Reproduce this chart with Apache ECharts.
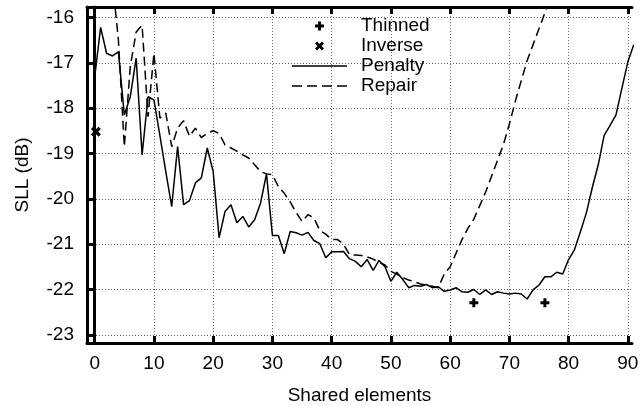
<!DOCTYPE html>
<html>
<head>
<meta charset="utf-8">
<script src="https://cdn.jsdelivr.net/npm/echarts@6/dist/echarts.min.js"></script>
<style>
  html, body { margin: 0; padding: 0; background: #fff; }
  #main { width: 641px; height: 406px; }
</style>
</head>
<body>
<div id="main"></div>
<script>
// 数据
var xTicks = [0, 10, 20, 30, 40, 50, 60, 70, 80, 90];
var yTicks = [-23, -22, -21, -20, -19, -18, -17, -16];

// Penalty: x = 0 .. 91
var penaltyStart = 0;
var penalty = [
  -17.31, -16.22, -16.79, -16.85, -16.76, -18.15, -17.75, -16.90, -19.03, -17.75,
  -17.82, -18.60, -19.40, -20.17, -18.85, -20.13, -20.04, -19.65, -19.54, -18.88,
  -19.40, -20.86, -20.28, -20.13, -20.53, -20.39, -20.62, -20.46, -20.09, -19.45,
  -20.81, -20.81, -21.21, -20.72, -20.75, -20.80, -20.74, -20.92, -20.99, -21.30,
  -21.17, -21.17, -21.16, -21.32, -21.38, -21.50, -21.34, -21.58, -21.36, -21.50,
  -21.82, -21.62, -21.78, -21.96, -21.91, -21.93, -21.89, -21.96, -21.94, -22.04,
  -22.01, -21.96, -22.05, -22.06, -22.00, -22.11, -22.01, -22.11, -22.05, -22.08,
  -22.10, -22.08, -22.10, -22.21, -22.01, -21.90, -21.72, -21.72, -21.62, -21.66,
  -21.34, -21.12, -20.72, -20.31, -19.75, -19.25, -18.60, -18.38, -18.15, -17.56,
  -16.98, -16.60
];

// Repair: x = 3 .. 77
var repairStart = 3;
var repair = [
  -15.20, -16.50, -18.85, -17.09, -16.32, -16.17, -18.19, -16.79, -18.22, -18.11,
  -18.85, -18.44, -18.28, -18.62, -18.44, -18.65, -18.55, -18.50, -18.56, -18.81,
  -18.88, -18.95, -19.03, -19.10, -19.25, -19.40, -19.45, -19.47, -19.73, -19.88,
  -20.07, -20.30, -20.50, -20.35, -20.42, -20.70, -20.78, -20.90, -20.90, -21.00,
  -21.23, -21.24, -21.25, -21.28, -21.33, -21.40, -21.46, -21.60, -21.66, -21.74,
  -21.79, -21.83, -21.88, -21.91, -21.93, -21.96, -21.66, -21.50, -21.20, -20.90,
  -20.65, -20.45, -20.15, -19.85, -19.50, -19.15, -18.80, -18.35, -17.85, -17.40,
  -16.95, -16.60, -16.25, -15.90, -15.50
];

var thinned = [[64, -22.29], [76, -22.29]];
var inverse = [[0.2, -18.52]];

function toPairs(start, ys) {
  return ys.map(function (y, i) { return [start + i, y]; });
}

var plusPath = 'path://M3,0H6V3H9V6H6V9H3V6H0V3H3Z';
var crossPath = 'path://M0,2.1L2.1,0L4.5,2.4L6.9,0L9,2.1L6.6,4.5L9,6.9L6.9,9L4.5,6.6L2.1,9L0,6.9L2.4,4.5Z';
var solidIcon = 'path://M0,0H55V1.5H0Z';
var dashIcon = 'path://M0,0H10V1.5H0Z M15,0H25V1.5H15Z M30,0H40V1.5H30Z M45,0H55V1.5H45Z';
var font = 'Liberation Sans, Arial, Helvetica, sans-serif';

var myChart = echarts.init(document.getElementById('main'));

var frameAxis = {
  axisLine: { show: true, lineStyle: { color: '#000', width: 3 } },
  splitLine: { show: false },
  axisLabel: { show: false }
};

option = {
  animation: false,
  backgroundColor: '#fff',
  textStyle: { fontFamily: font },
  grid: { left: 87, right: 9, top: 7, bottom: 63, containLabel: false, outerBoundsMode: 'none' },
  legend: {
    orient: 'vertical',
    left: 292,
    top: 16,
    padding: 0,
    itemWidth: 55,
    itemHeight: 9,
    itemGap: 0,
    textStyle: { fontFamily: font, fontSize: 19, lineHeight: 20, color: '#000', padding: [0, 0, 0, 9] },
    data: [
      { name: 'Thinned', icon: plusPath },
      { name: 'Inverse', icon: crossPath },
      { name: 'Penalty', icon: solidIcon },
      { name: 'Repair', icon: dashIcon }
    ]
  },
  xAxis: [
    {
      type: 'value',
      position: 'bottom',
      min: -1.3,
      max: 90.7,
      name: 'Shared elements',
      nameLocation: 'middle',
      nameGap: 43,
      nameTextStyle: { fontFamily: font, fontSize: 19, color: '#000' },
      axisLine: { show: true, onZero: false, lineStyle: { color: '#000', width: 3 } },
      axisTick: { show: true, inside: true, length: 7, customValues: xTicks, lineStyle: { color: '#000', width: 3 } },
      axisLabel: { show: true, customValues: xTicks, margin: 11, fontFamily: font, fontSize: 19, color: '#000' },
      splitLine: { show: true, lineStyle: { color: '#666', width: 1, type: [1, 2] } }
    },
    Object.assign({ type: 'value', position: 'top', min: -1.3, max: 90.7 }, frameAxis, {
      axisTick: { show: true, inside: true, length: 7, customValues: xTicks, lineStyle: { color: '#000', width: 3 } }
    })
  ],
  yAxis: [
    {
      type: 'value',
      position: 'left',
      min: -23.18,
      max: -15.77,
      name: 'SLL (dB)',
      nameLocation: 'middle',
      nameGap: 55,
      nameTextStyle: { fontFamily: font, fontSize: 19, color: '#000' },
      axisLine: { show: true, onZero: false, lineStyle: { color: '#000', width: 3 } },
      axisTick: { show: true, inside: true, length: 7, customValues: yTicks, lineStyle: { color: '#000', width: 3 } },
      axisLabel: { show: true, customValues: yTicks, margin: 13, fontFamily: font, fontSize: 19, color: '#000' },
      splitLine: { show: true, lineStyle: { color: '#666', width: 1, type: [1, 2] } }
    },
    Object.assign({ type: 'value', position: 'right', min: -23.18, max: -15.77 }, frameAxis, {
      axisTick: { show: true, inside: true, length: 7, customValues: yTicks, lineStyle: { color: '#000', width: 3 } }
    })
  ],
  series: [
    {
      name: 'Thinned',
      type: 'scatter',
      symbol: plusPath,
      symbolSize: 9,
      itemStyle: { color: '#000', opacity: 1 },
      data: thinned
    },
    {
      name: 'Inverse',
      type: 'scatter',
      symbol: crossPath,
      symbolSize: 10,
      itemStyle: { color: '#000', opacity: 1 },
      data: inverse
    },
    {
      name: 'Penalty',
      type: 'line',
      symbol: 'none',
      showSymbol: false,
      clip: true,
      lineStyle: { color: '#000', width: 1.5 },
      itemStyle: { color: '#000' },
      data: toPairs(penaltyStart, penalty)
    },
    {
      name: 'Repair',
      type: 'line',
      symbol: 'none',
      showSymbol: false,
      clip: true,
      lineStyle: { color: '#000', width: 1.5, type: [9, 5] },
      itemStyle: { color: '#000' },
      data: toPairs(repairStart, repair)
    }
  ]
};

myChart.setOption(option);
</script>
</body>
</html>
